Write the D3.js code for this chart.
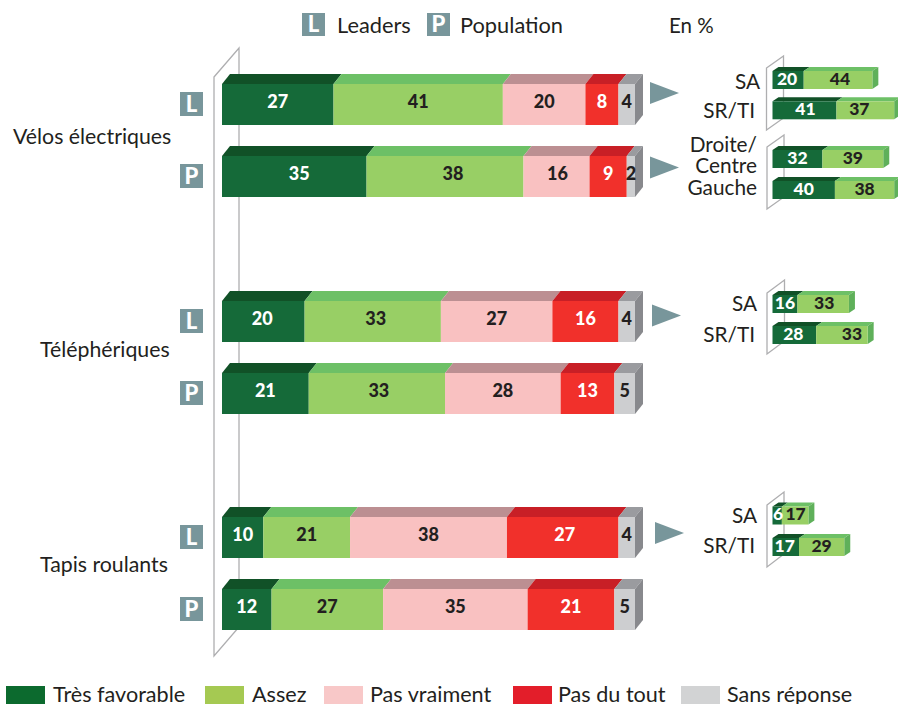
<!DOCTYPE html>
<html><head><meta charset="utf-8">
<script src="https://cdn.jsdelivr.net/npm/d3@7/dist/d3.min.js"></script>
<style>html,body{margin:0;padding:0;background:#fff}svg{display:block}
text{font-family:Lato,"Open Sans",sans-serif;fill:#231f20}</style></head>
<body><svg id="c" width="898" height="704"></svg>
<script>
const answers = ["Très favorable","Assez","Pas vraiment","Pas du tout","Sans réponse"];
const rowKinds = ["L","P","L","P","L","P"];
const groups = ["Vélos électriques","Téléphériques","Tapis roulants"];
const row1 = [27,41,20,8,4];
const row2 = [35,38,16,9,2];
const row3 = [20,33,27,16,4];
const row4 = [21,33,28,13,5];
const row5 = [10,21,38,27,4];
const row6 = [12,27,35,21,5];
const mainRows = [row1,row2,row3,row4,row5,row6];
const sub1 = [20,44];
const sub2 = [41,37];
const sub3 = [32,39];
const sub4 = [40,38];
const sub5 = [16,33];
const sub6 = [28,33];
const sub7 = [6,17];
const sub8 = [17,29];
const subRows = [sub1,sub2,sub3,sub4,sub5,sub6,sub7,sub8];

const front = ["#156a39","#98cf65","#f9c1c1","#f1302b","#cdced0"];
const topC  = ["#115127","#6dc066","#bc8f92","#c81f26","#9a9b9f"];
const sideC = ["#115127","#5fb05a","#bc8f92","#c81f26","#88898d"];
const legendC = ["#0c6a2e","#a5c952","#f8c8c8","#e31e2a","#d2d3d4"];
const badge = "#78969b", panelC = "#aeaeb0";

const svg = d3.select("#c");
const x = d3.scaleLinear().domain([0,100]).range([222,635]);
const xs = d3.scaleLinear().domain([0,100]).range([772.5,928.5]);
const mainTop = [84,156,301,373,517,589], mainH = 41;
const subTop = [71,101.3,150,181,295,326,506.5,538], subH = 18;
// small hand-set label nudges as in the original artwork
const mainNudge = [[0,0,0,0,0],[5,8,1,0,0],[-1,3,0,0,0],[0,2,0,0,0],[0,0,0,2,0],[0,0,0,0,0]];
const subNudge = [[-1,2],[1,-6],[0,0],[0,0],[0,1],[-1,10],[1,0.5],[-1,0]];
const pts = a => a.map(p=>p.join(",")).join(" ");

function panel(x0,x1,yt,yb,d){
  svg.append("polygon").attr("points",pts([[x0,yt],[x1,yt-d],[x1,yb-d],[x0,yb]]))
    .attr("fill","none").attr("stroke",panelC).attr("stroke-width",1.3);
}
panel(214,239,77,656,29);
panel(766.5,783.5,68,130,12);
panel(767,784,147,209,12);
panel(767,784.5,293,354,13);
panel(767,784,505,567,13);

function bar(vals,y0,h,sc,dx,dy,fs,nudge,up){
  let cum=0;
  const g=svg.append("g");
  const stacks=vals.map((v,i)=>{const s={v,i,a:cum,b:cum+v};cum+=v;return s;});
  g.selectAll("polygon.t").data(stacks).join("polygon")
    .attr("points",s=>pts([[sc(s.a),y0],[sc(s.a)+dx,y0-dy],[sc(s.b)+dx,y0-dy],[sc(s.b),y0]]))
    .attr("fill",s=>topC[s.i]);
  const last=stacks[stacks.length-1];
  g.append("polygon").attr("points",pts([[sc(last.b),y0],[sc(last.b)+dx,y0-dy],[sc(last.b)+dx,y0+h-dy],[sc(last.b),y0+h]]))
    .attr("fill",sideC[last.i]);
  g.selectAll("rect").data(stacks).join("rect")
    .attr("x",s=>sc(s.a)).attr("y",y0).attr("width",s=>sc(s.b)-sc(s.a)).attr("height",h)
    .attr("fill",s=>front[s.i]);
  g.selectAll("text").data(stacks).join("text")
    .attr("x",s=>(sc(s.a)+sc(s.b))/2+nudge[s.i]).attr("y",y0+h/2+fs*0.35-up)
    .attr("text-anchor","middle").attr("font-size",fs).attr("font-weight",900)
    .style("fill",s=>(s.i===0||s.i===3)?"#fff":"#231f20").text(s=>s.v);
}
mainRows.forEach((r,i)=>bar(r,mainTop[i],mainH,x,8,10,18,mainNudge[i],2.5));
subRows.forEach((r,i)=>bar(r,subTop[i],subH,xs,6,4,17.5,subNudge[i],1.2));

mainRows.forEach((r,i)=>{
  const y=mainTop[i]+8;
  svg.append("rect").attr("x",180).attr("y",y).attr("width",23).attr("height",24).attr("fill",badge);
  svg.append("text").attr("x",191.5).attr("y",y+19.5).attr("text-anchor","middle").attr("font-size",22)
    .attr("font-weight",900).style("fill","#fff").text(rowKinds[i]);
});

[[13,144],[40,357],[40,572]].forEach((p,i)=>{
  svg.append("text").attr("x",p[0]).attr("y",p[1]).attr("font-size",21.3).text(groups[i]);
});

// top legend
[[302,13,"L",337,"Leaders"],[427,13,"P",460,"Population"]].forEach(d=>{
  svg.append("rect").attr("x",d[0]).attr("y",d[1]).attr("width",23).attr("height",23).attr("fill",badge);
  svg.append("text").attr("x",d[0]+11.5).attr("y",d[1]+19).attr("text-anchor","middle").attr("font-size",22)
    .attr("font-weight",900).style("fill","#fff").text(d[2]);
  svg.append("text").attr("x",d[3]).attr("y",33).attr("font-size",21.8).text(d[4]);
});
svg.append("text").attr("x",669).attr("y",33).attr("font-size",20.5).text("En %");

// arrows
[[650,93],[650,167.5],[652,315.5],[655,533]].forEach(p=>{
  svg.append("polygon").attr("points",pts([[p[0],p[1]-11],[p[0]+29,p[1]],[p[0],p[1]+11]])).attr("fill",badge);
});

// sub labels
[[760,89,"SA"],[755,118,"SR/TI"],[757,152,"Droite/"],[757,173,"Centre"],[757,195,"Gauche"],
 [757,311,"SA"],[755,342,"SR/TI"],[757,523,"SA"],[755,553,"SR/TI"]].forEach(d=>{
  svg.append("text").attr("x",d[0]).attr("y",d[1]).attr("text-anchor","end").attr("font-size",20.8).text(d[2]);
});

// bottom legend
const lx=[6,205,324,513,681], tx=[53,252,370,558,727];
answers.forEach((a,i)=>{
  svg.append("rect").attr("x",lx[i]).attr("y",686).attr("width",39).attr("height",18).attr("fill",legendC[i]);
  svg.append("text").attr("x",tx[i]).attr("y",701.5).attr("font-size",21.6).text(a);
});
</script></body></html>
